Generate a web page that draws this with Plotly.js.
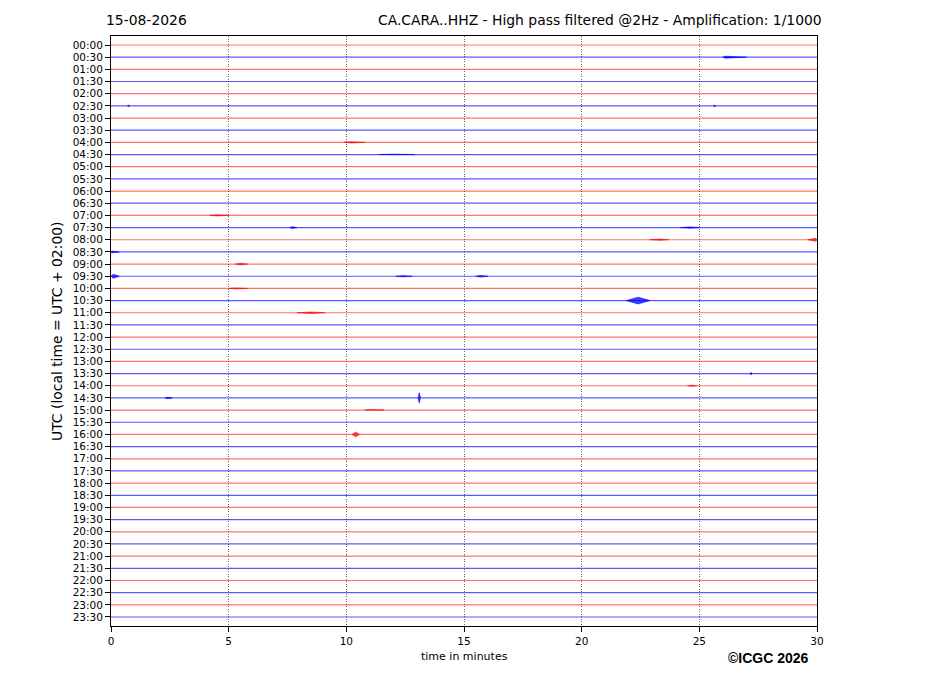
<!DOCTYPE html>
<html>
<head>
<meta charset="utf-8">
<script src="https://cdn.plot.ly/plotly-3.0.1.min.js"></script>
<style>html,body{margin:0;padding:0;background:#fff;}#chart{width:927px;height:696px;}</style>
</head>
<body>
<div id="chart"></div>
<script>
// Row (trace) labels, 30-minute lines
const rowLabels = ["00:00","00:30","01:00","01:30","02:00","02:30","03:00","03:30","04:00","04:30",
  "05:00","05:30","06:00","06:30","07:00","07:30","08:00","08:30","09:00","09:30",
  "10:00","10:30","11:00","11:30","12:00","12:30","13:00","13:30","14:00","14:30",
  "15:00","15:30","16:00","16:30","17:00","17:30","18:00","18:30","19:00","19:30",
  "20:00","20:30","21:00","21:30","22:00","22:30","23:00","23:30"];
const xTicks = [0, 5, 10, 15, 20, 25, 30];
const traceStart = 0, traceEnd = 30; // minutes

// Seismic events: row index, start, peak, end (minutes), half-amplitude (row units)
const evRow   = [1,    8,    9,    14,   15,   15,   16,   16,   17,   18,   19,   19,   19,   20,   21,   22,   27,    28,   29,   29,    30,   32,    5,    5];
const evStart = [26.0, 9.9,  11.4, 4.2,  7.6,  24.2, 22.9, 29.6, 0.0,  5.3,  0.0,  12.1, 15.5, 5.0,  21.9, 7.9,  27.15, 24.5, 2.3,  13.05, 10.8, 10.25, 0.7,  25.6];
const evPeak  = [26.1, 10.2, 12.0, 4.5,  7.7,  24.6, 23.3, 29.95,0.05, 5.5,  0.1,  12.4, 15.7, 5.3,  22.4, 8.5,  27.2,  24.7, 2.4,  13.1,  11.0, 10.4,  0.75, 25.65];
const evEnd   = [27.0, 10.8, 12.9, 5.0,  7.9,  25.0, 23.7, 30.0, 0.35, 5.8,  0.35, 12.8, 16.0, 5.8,  22.9, 9.1,  27.25, 24.9, 2.6,  13.15, 11.6, 10.55, 0.8,  25.7];
const evAmp   = [0.08, 0.05, 0.03, 0.05, 0.07, 0.05, 0.05, 0.12, 0.07, 0.07, 0.16, 0.05, 0.07, 0.04, 0.28, 0.06, 0.1,   0.05, 0.06, 0.42,  0.04, 0.2,   0.06, 0.06];

const RED = 'rgba(255,0,0,0.55)';
const BLUE = 'rgba(0,0,255,0.65)';
const RED_EV = 'rgba(255,0,0,0.7)';
const BLUE_EV = 'rgba(0,0,255,0.75)';

const traces = [];
// baseline traces, one per row
[0,1].forEach(par => {
  const xs = [], ys = [];
  rowLabels.forEach((lab, i) => {
    if (i % 2 !== par) return;
    xs.push(traceStart, traceEnd, null);
    ys.push(i, i, null);
  });
  traces.push({type:'scatter', mode:'lines', x:xs, y:ys, hoverinfo:'skip',
    line:{color: par===0 ? RED : BLUE, width:1.2}, showlegend:false});
});
// events
evRow.forEach((r, k) => {
  const c = r % 2 === 0 ? RED_EV : BLUE_EV;
  traces.push({type:'scatter', mode:'lines', fill:'toself', fillcolor:c,
    x:[evStart[k], evPeak[k], evEnd[k], evPeak[k], evStart[k]],
    y:[r, r - evAmp[k], r, r + evAmp[k], r],
    line:{color:c, width:0.8}, hoverinfo:'skip', showlegend:false});
});

const font = {family:'DejaVu Sans, sans-serif', color:'#000'};
const layout = {
  width:927, height:696,
  margin:{l:111, r:110, t:36, b:70, pad:0},
  paper_bgcolor:'#fff', plot_bgcolor:'#fff',
  showlegend:false,
  xaxis:{range:[traceStart, traceEnd], tickvals:xTicks, ticktext:xTicks.map(String),
    ticks:'outside', ticklen:5, tickwidth:1, tickcolor:'#000',
    showgrid:true, gridcolor:'rgba(0,0,0,0.75)', griddash:'1px,1.5px', gridwidth:0.8,
    showline:true, mirror:true, linecolor:'#000', linewidth:1, zeroline:false,
    tickfont:Object.assign({size:10.5}, font), fixedrange:true},
  yaxis:{range:[rowLabels.length - 1 + 0.74, -0.74], tickvals:rowLabels.map((_, i) => i), ticktext:rowLabels,
    ticks:'outside', ticklen:5, tickwidth:1, tickcolor:'#000',
    showgrid:false, showline:true, mirror:true, linecolor:'#000', linewidth:1, zeroline:false,
    tickfont:Object.assign({size:10.5}, font), fixedrange:true},
  annotations:[
    {xref:'paper', yref:'paper', x:-0.01, y:1.027, xanchor:'left', yanchor:'middle', showarrow:false,
      text:'15-08-2026', font:Object.assign({size:13.9}, font)},
    {xref:'paper', yref:'paper', x:1.01, y:1.027, xanchor:'right', yanchor:'middle', showarrow:false,
      text:'CA.CARA..HHZ - High pass filtered @2Hz - Amplification: 1/1000', font:Object.assign({size:13.9}, font)},
    {xref:'paper', yref:'paper', x:0.5, y:-0.052, xanchor:'center', yanchor:'middle', showarrow:false,
      text:'time in minutes', font:Object.assign({size:11}, font)},
    {xref:'paper', yref:'paper', x:0.9915, y:-0.055, xanchor:'right', yanchor:'middle', showarrow:false,
      text:'<b>©ICGC 2026</b>', font:{family:'Liberation Sans, Arial, sans-serif', size:14, color:'#000'}},
    {xref:'paper', yref:'paper', x:-0.0765, y:0.5, xanchor:'center', yanchor:'middle', showarrow:false,
      textangle:-90, text:'UTC (local time = UTC + 02:00)', font:Object.assign({size:13.9}, font)}
  ]
};
Plotly.newPlot('chart', traces, layout, {staticPlot:true, displayModeBar:false});
</script>
</body>
</html>
